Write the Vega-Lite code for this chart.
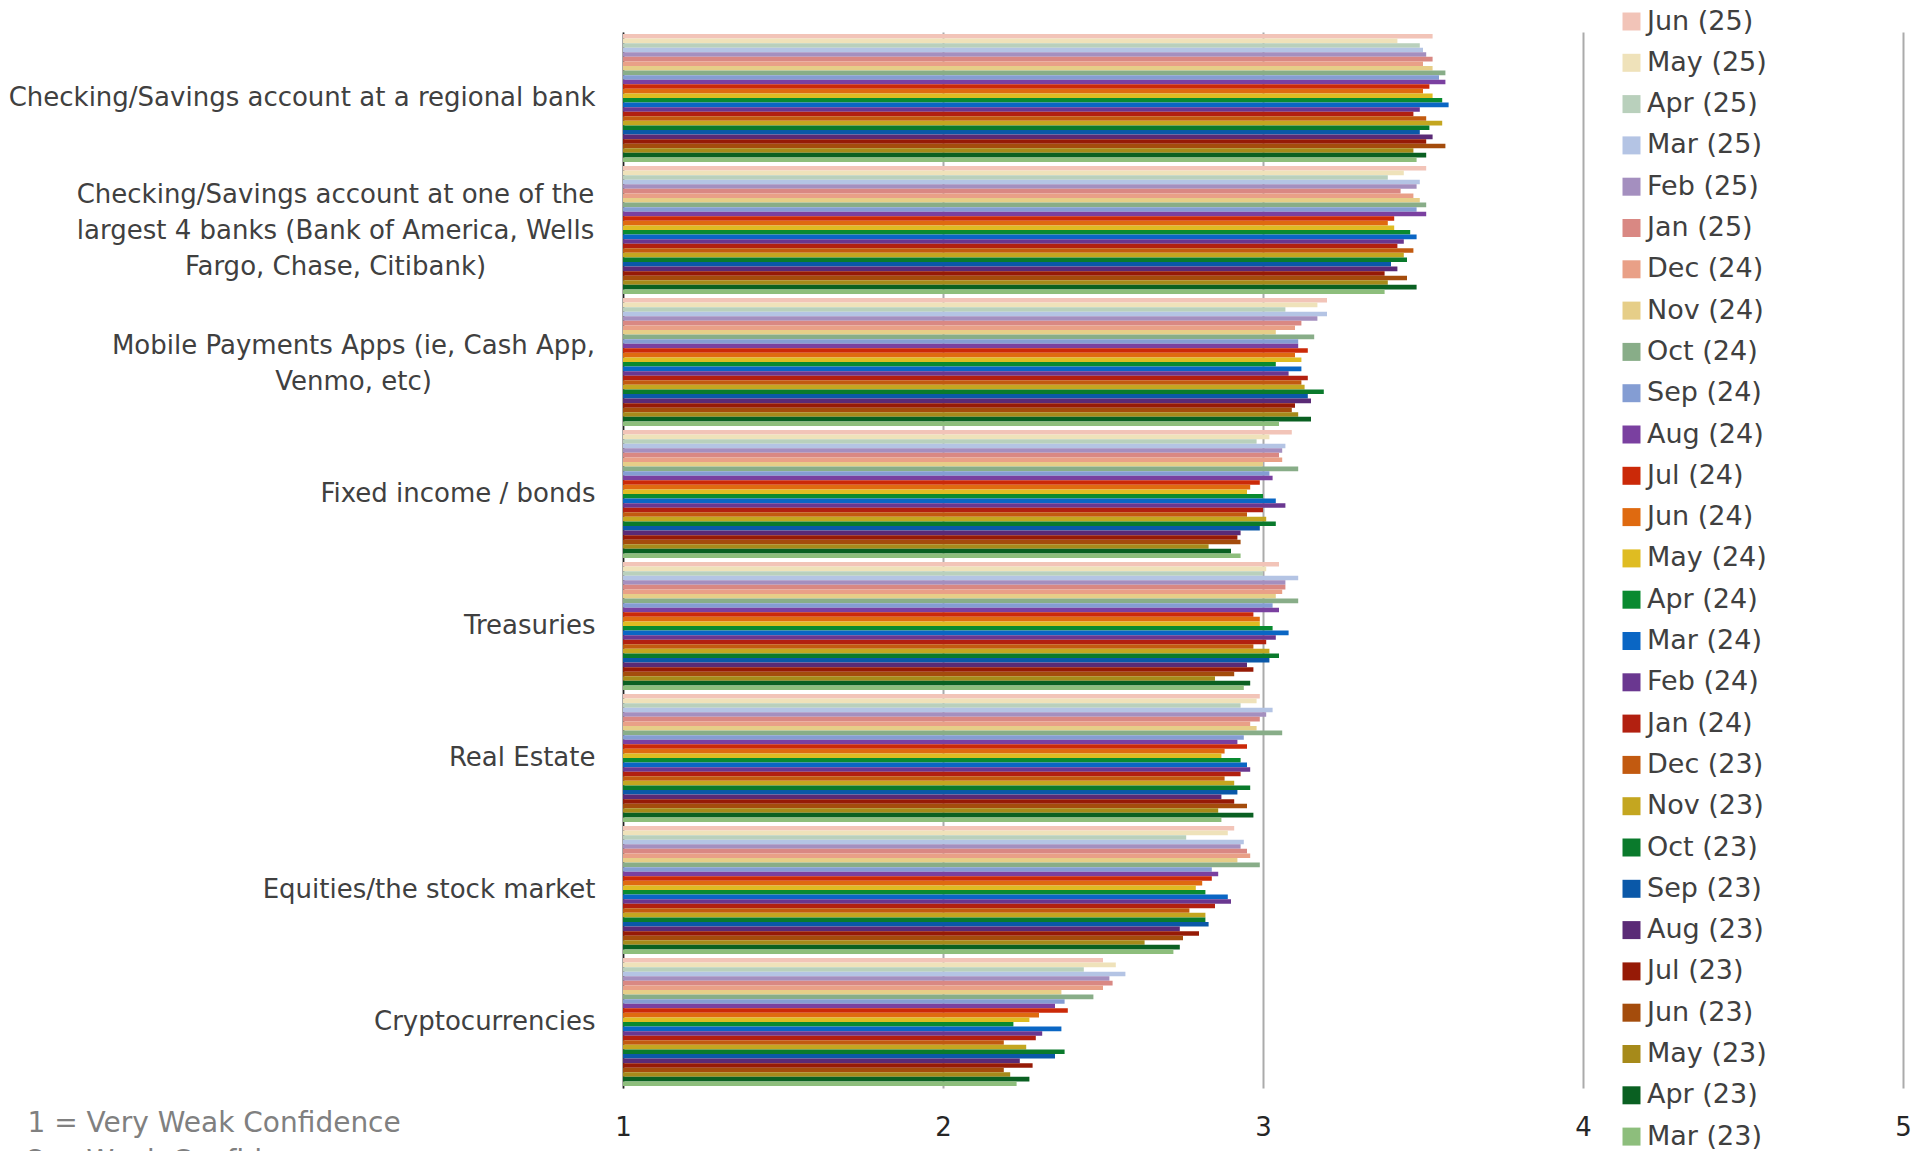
{
  "$schema": "https://vega.github.io/schema/vega-lite/v6.json",
  "width": 1280,
  "height": 1056,
  "autosize": {"type": "none"},
  "padding": {"left": 623, "top": 32, "right": 24, "bottom": 63},
  "background": "white",
  "config": {"font": "DejaVu Sans", "view": {"stroke": null}},
  "data": {"values": [
    {"c":"Checking/Savings account at a regional bank","m":"Jun (25)","v":3.53},
    {"c":"Checking/Savings account at a regional bank","m":"May (25)","v":3.42},
    {"c":"Checking/Savings account at a regional bank","m":"Apr (25)","v":3.49},
    {"c":"Checking/Savings account at a regional bank","m":"Mar (25)","v":3.50},
    {"c":"Checking/Savings account at a regional bank","m":"Feb (25)","v":3.51},
    {"c":"Checking/Savings account at a regional bank","m":"Jan (25)","v":3.53},
    {"c":"Checking/Savings account at a regional bank","m":"Dec (24)","v":3.50},
    {"c":"Checking/Savings account at a regional bank","m":"Nov (24)","v":3.53},
    {"c":"Checking/Savings account at a regional bank","m":"Oct (24)","v":3.57},
    {"c":"Checking/Savings account at a regional bank","m":"Sep (24)","v":3.55},
    {"c":"Checking/Savings account at a regional bank","m":"Aug (24)","v":3.57},
    {"c":"Checking/Savings account at a regional bank","m":"Jul (24)","v":3.52},
    {"c":"Checking/Savings account at a regional bank","m":"Jun (24)","v":3.50},
    {"c":"Checking/Savings account at a regional bank","m":"May (24)","v":3.53},
    {"c":"Checking/Savings account at a regional bank","m":"Apr (24)","v":3.56},
    {"c":"Checking/Savings account at a regional bank","m":"Mar (24)","v":3.58},
    {"c":"Checking/Savings account at a regional bank","m":"Feb (24)","v":3.49},
    {"c":"Checking/Savings account at a regional bank","m":"Jan (24)","v":3.47},
    {"c":"Checking/Savings account at a regional bank","m":"Dec (23)","v":3.51},
    {"c":"Checking/Savings account at a regional bank","m":"Nov (23)","v":3.56},
    {"c":"Checking/Savings account at a regional bank","m":"Oct (23)","v":3.52},
    {"c":"Checking/Savings account at a regional bank","m":"Sep (23)","v":3.49},
    {"c":"Checking/Savings account at a regional bank","m":"Aug (23)","v":3.53},
    {"c":"Checking/Savings account at a regional bank","m":"Jul (23)","v":3.51},
    {"c":"Checking/Savings account at a regional bank","m":"Jun (23)","v":3.57},
    {"c":"Checking/Savings account at a regional bank","m":"May (23)","v":3.47},
    {"c":"Checking/Savings account at a regional bank","m":"Apr (23)","v":3.51},
    {"c":"Checking/Savings account at a regional bank","m":"Mar (23)","v":3.48},
    {"c":"Checking/Savings account at one of the largest 4 banks (Bank of America, Wells Fargo, Chase, Citibank)","m":"Jun (25)","v":3.51},
    {"c":"Checking/Savings account at one of the largest 4 banks (Bank of America, Wells Fargo, Chase, Citibank)","m":"May (25)","v":3.44},
    {"c":"Checking/Savings account at one of the largest 4 banks (Bank of America, Wells Fargo, Chase, Citibank)","m":"Apr (25)","v":3.39},
    {"c":"Checking/Savings account at one of the largest 4 banks (Bank of America, Wells Fargo, Chase, Citibank)","m":"Mar (25)","v":3.49},
    {"c":"Checking/Savings account at one of the largest 4 banks (Bank of America, Wells Fargo, Chase, Citibank)","m":"Feb (25)","v":3.48},
    {"c":"Checking/Savings account at one of the largest 4 banks (Bank of America, Wells Fargo, Chase, Citibank)","m":"Jan (25)","v":3.43},
    {"c":"Checking/Savings account at one of the largest 4 banks (Bank of America, Wells Fargo, Chase, Citibank)","m":"Dec (24)","v":3.47},
    {"c":"Checking/Savings account at one of the largest 4 banks (Bank of America, Wells Fargo, Chase, Citibank)","m":"Nov (24)","v":3.49},
    {"c":"Checking/Savings account at one of the largest 4 banks (Bank of America, Wells Fargo, Chase, Citibank)","m":"Oct (24)","v":3.51},
    {"c":"Checking/Savings account at one of the largest 4 banks (Bank of America, Wells Fargo, Chase, Citibank)","m":"Sep (24)","v":3.48},
    {"c":"Checking/Savings account at one of the largest 4 banks (Bank of America, Wells Fargo, Chase, Citibank)","m":"Aug (24)","v":3.51},
    {"c":"Checking/Savings account at one of the largest 4 banks (Bank of America, Wells Fargo, Chase, Citibank)","m":"Jul (24)","v":3.41},
    {"c":"Checking/Savings account at one of the largest 4 banks (Bank of America, Wells Fargo, Chase, Citibank)","m":"Jun (24)","v":3.39},
    {"c":"Checking/Savings account at one of the largest 4 banks (Bank of America, Wells Fargo, Chase, Citibank)","m":"May (24)","v":3.41},
    {"c":"Checking/Savings account at one of the largest 4 banks (Bank of America, Wells Fargo, Chase, Citibank)","m":"Apr (24)","v":3.46},
    {"c":"Checking/Savings account at one of the largest 4 banks (Bank of America, Wells Fargo, Chase, Citibank)","m":"Mar (24)","v":3.48},
    {"c":"Checking/Savings account at one of the largest 4 banks (Bank of America, Wells Fargo, Chase, Citibank)","m":"Feb (24)","v":3.44},
    {"c":"Checking/Savings account at one of the largest 4 banks (Bank of America, Wells Fargo, Chase, Citibank)","m":"Jan (24)","v":3.42},
    {"c":"Checking/Savings account at one of the largest 4 banks (Bank of America, Wells Fargo, Chase, Citibank)","m":"Dec (23)","v":3.47},
    {"c":"Checking/Savings account at one of the largest 4 banks (Bank of America, Wells Fargo, Chase, Citibank)","m":"Nov (23)","v":3.44},
    {"c":"Checking/Savings account at one of the largest 4 banks (Bank of America, Wells Fargo, Chase, Citibank)","m":"Oct (23)","v":3.45},
    {"c":"Checking/Savings account at one of the largest 4 banks (Bank of America, Wells Fargo, Chase, Citibank)","m":"Sep (23)","v":3.40},
    {"c":"Checking/Savings account at one of the largest 4 banks (Bank of America, Wells Fargo, Chase, Citibank)","m":"Aug (23)","v":3.42},
    {"c":"Checking/Savings account at one of the largest 4 banks (Bank of America, Wells Fargo, Chase, Citibank)","m":"Jul (23)","v":3.38},
    {"c":"Checking/Savings account at one of the largest 4 banks (Bank of America, Wells Fargo, Chase, Citibank)","m":"Jun (23)","v":3.45},
    {"c":"Checking/Savings account at one of the largest 4 banks (Bank of America, Wells Fargo, Chase, Citibank)","m":"May (23)","v":3.39},
    {"c":"Checking/Savings account at one of the largest 4 banks (Bank of America, Wells Fargo, Chase, Citibank)","m":"Apr (23)","v":3.48},
    {"c":"Checking/Savings account at one of the largest 4 banks (Bank of America, Wells Fargo, Chase, Citibank)","m":"Mar (23)","v":3.38},
    {"c":"Mobile Payments Apps (ie, Cash App, Venmo, etc)","m":"Jun (25)","v":3.20},
    {"c":"Mobile Payments Apps (ie, Cash App, Venmo, etc)","m":"May (25)","v":3.17},
    {"c":"Mobile Payments Apps (ie, Cash App, Venmo, etc)","m":"Apr (25)","v":3.07},
    {"c":"Mobile Payments Apps (ie, Cash App, Venmo, etc)","m":"Mar (25)","v":3.20},
    {"c":"Mobile Payments Apps (ie, Cash App, Venmo, etc)","m":"Feb (25)","v":3.17},
    {"c":"Mobile Payments Apps (ie, Cash App, Venmo, etc)","m":"Jan (25)","v":3.12},
    {"c":"Mobile Payments Apps (ie, Cash App, Venmo, etc)","m":"Dec (24)","v":3.10},
    {"c":"Mobile Payments Apps (ie, Cash App, Venmo, etc)","m":"Nov (24)","v":3.04},
    {"c":"Mobile Payments Apps (ie, Cash App, Venmo, etc)","m":"Oct (24)","v":3.16},
    {"c":"Mobile Payments Apps (ie, Cash App, Venmo, etc)","m":"Sep (24)","v":3.11},
    {"c":"Mobile Payments Apps (ie, Cash App, Venmo, etc)","m":"Aug (24)","v":3.11},
    {"c":"Mobile Payments Apps (ie, Cash App, Venmo, etc)","m":"Jul (24)","v":3.14},
    {"c":"Mobile Payments Apps (ie, Cash App, Venmo, etc)","m":"Jun (24)","v":3.10},
    {"c":"Mobile Payments Apps (ie, Cash App, Venmo, etc)","m":"May (24)","v":3.12},
    {"c":"Mobile Payments Apps (ie, Cash App, Venmo, etc)","m":"Apr (24)","v":3.04},
    {"c":"Mobile Payments Apps (ie, Cash App, Venmo, etc)","m":"Mar (24)","v":3.12},
    {"c":"Mobile Payments Apps (ie, Cash App, Venmo, etc)","m":"Feb (24)","v":3.08},
    {"c":"Mobile Payments Apps (ie, Cash App, Venmo, etc)","m":"Jan (24)","v":3.14},
    {"c":"Mobile Payments Apps (ie, Cash App, Venmo, etc)","m":"Dec (23)","v":3.12},
    {"c":"Mobile Payments Apps (ie, Cash App, Venmo, etc)","m":"Nov (23)","v":3.13},
    {"c":"Mobile Payments Apps (ie, Cash App, Venmo, etc)","m":"Oct (23)","v":3.19},
    {"c":"Mobile Payments Apps (ie, Cash App, Venmo, etc)","m":"Sep (23)","v":3.14},
    {"c":"Mobile Payments Apps (ie, Cash App, Venmo, etc)","m":"Aug (23)","v":3.15},
    {"c":"Mobile Payments Apps (ie, Cash App, Venmo, etc)","m":"Jul (23)","v":3.10},
    {"c":"Mobile Payments Apps (ie, Cash App, Venmo, etc)","m":"Jun (23)","v":3.09},
    {"c":"Mobile Payments Apps (ie, Cash App, Venmo, etc)","m":"May (23)","v":3.11},
    {"c":"Mobile Payments Apps (ie, Cash App, Venmo, etc)","m":"Apr (23)","v":3.15},
    {"c":"Mobile Payments Apps (ie, Cash App, Venmo, etc)","m":"Mar (23)","v":3.05},
    {"c":"Fixed income / bonds","m":"Jun (25)","v":3.09},
    {"c":"Fixed income / bonds","m":"May (25)","v":3.02},
    {"c":"Fixed income / bonds","m":"Apr (25)","v":2.98},
    {"c":"Fixed income / bonds","m":"Mar (25)","v":3.07},
    {"c":"Fixed income / bonds","m":"Feb (25)","v":3.06},
    {"c":"Fixed income / bonds","m":"Jan (25)","v":3.05},
    {"c":"Fixed income / bonds","m":"Dec (24)","v":3.06},
    {"c":"Fixed income / bonds","m":"Nov (24)","v":3.00},
    {"c":"Fixed income / bonds","m":"Oct (24)","v":3.11},
    {"c":"Fixed income / bonds","m":"Sep (24)","v":3.02},
    {"c":"Fixed income / bonds","m":"Aug (24)","v":3.03},
    {"c":"Fixed income / bonds","m":"Jul (24)","v":2.99},
    {"c":"Fixed income / bonds","m":"Jun (24)","v":2.96},
    {"c":"Fixed income / bonds","m":"May (24)","v":2.95},
    {"c":"Fixed income / bonds","m":"Apr (24)","v":3.00},
    {"c":"Fixed income / bonds","m":"Mar (24)","v":3.04},
    {"c":"Fixed income / bonds","m":"Feb (24)","v":3.07},
    {"c":"Fixed income / bonds","m":"Jan (24)","v":3.00},
    {"c":"Fixed income / bonds","m":"Dec (23)","v":2.95},
    {"c":"Fixed income / bonds","m":"Nov (23)","v":3.01},
    {"c":"Fixed income / bonds","m":"Oct (23)","v":3.04},
    {"c":"Fixed income / bonds","m":"Sep (23)","v":2.99},
    {"c":"Fixed income / bonds","m":"Aug (23)","v":2.93},
    {"c":"Fixed income / bonds","m":"Jul (23)","v":2.92},
    {"c":"Fixed income / bonds","m":"Jun (23)","v":2.93},
    {"c":"Fixed income / bonds","m":"May (23)","v":2.83},
    {"c":"Fixed income / bonds","m":"Apr (23)","v":2.90},
    {"c":"Fixed income / bonds","m":"Mar (23)","v":2.93},
    {"c":"Treasuries","m":"Jun (25)","v":3.05},
    {"c":"Treasuries","m":"May (25)","v":3.01},
    {"c":"Treasuries","m":"Apr (25)","v":3.00},
    {"c":"Treasuries","m":"Mar (25)","v":3.11},
    {"c":"Treasuries","m":"Feb (25)","v":3.07},
    {"c":"Treasuries","m":"Jan (25)","v":3.07},
    {"c":"Treasuries","m":"Dec (24)","v":3.06},
    {"c":"Treasuries","m":"Nov (24)","v":3.04},
    {"c":"Treasuries","m":"Oct (24)","v":3.11},
    {"c":"Treasuries","m":"Sep (24)","v":3.03},
    {"c":"Treasuries","m":"Aug (24)","v":3.05},
    {"c":"Treasuries","m":"Jul (24)","v":2.97},
    {"c":"Treasuries","m":"Jun (24)","v":2.99},
    {"c":"Treasuries","m":"May (24)","v":2.99},
    {"c":"Treasuries","m":"Apr (24)","v":3.03},
    {"c":"Treasuries","m":"Mar (24)","v":3.08},
    {"c":"Treasuries","m":"Feb (24)","v":3.04},
    {"c":"Treasuries","m":"Jan (24)","v":3.01},
    {"c":"Treasuries","m":"Dec (23)","v":2.97},
    {"c":"Treasuries","m":"Nov (23)","v":3.02},
    {"c":"Treasuries","m":"Oct (23)","v":3.05},
    {"c":"Treasuries","m":"Sep (23)","v":3.02},
    {"c":"Treasuries","m":"Aug (23)","v":2.95},
    {"c":"Treasuries","m":"Jul (23)","v":2.97},
    {"c":"Treasuries","m":"Jun (23)","v":2.91},
    {"c":"Treasuries","m":"May (23)","v":2.85},
    {"c":"Treasuries","m":"Apr (23)","v":2.96},
    {"c":"Treasuries","m":"Mar (23)","v":2.94},
    {"c":"Real Estate","m":"Jun (25)","v":2.99},
    {"c":"Real Estate","m":"May (25)","v":2.98},
    {"c":"Real Estate","m":"Apr (25)","v":2.93},
    {"c":"Real Estate","m":"Mar (25)","v":3.03},
    {"c":"Real Estate","m":"Feb (25)","v":3.01},
    {"c":"Real Estate","m":"Jan (25)","v":2.99},
    {"c":"Real Estate","m":"Dec (24)","v":2.96},
    {"c":"Real Estate","m":"Nov (24)","v":2.98},
    {"c":"Real Estate","m":"Oct (24)","v":3.06},
    {"c":"Real Estate","m":"Sep (24)","v":2.94},
    {"c":"Real Estate","m":"Aug (24)","v":2.92},
    {"c":"Real Estate","m":"Jul (24)","v":2.95},
    {"c":"Real Estate","m":"Jun (24)","v":2.88},
    {"c":"Real Estate","m":"May (24)","v":2.87},
    {"c":"Real Estate","m":"Apr (24)","v":2.93},
    {"c":"Real Estate","m":"Mar (24)","v":2.95},
    {"c":"Real Estate","m":"Feb (24)","v":2.96},
    {"c":"Real Estate","m":"Jan (24)","v":2.93},
    {"c":"Real Estate","m":"Dec (23)","v":2.88},
    {"c":"Real Estate","m":"Nov (23)","v":2.91},
    {"c":"Real Estate","m":"Oct (23)","v":2.96},
    {"c":"Real Estate","m":"Sep (23)","v":2.92},
    {"c":"Real Estate","m":"Aug (23)","v":2.87},
    {"c":"Real Estate","m":"Jul (23)","v":2.91},
    {"c":"Real Estate","m":"Jun (23)","v":2.95},
    {"c":"Real Estate","m":"May (23)","v":2.86},
    {"c":"Real Estate","m":"Apr (23)","v":2.97},
    {"c":"Real Estate","m":"Mar (23)","v":2.87},
    {"c":"Equities/the stock market","m":"Jun (25)","v":2.91},
    {"c":"Equities/the stock market","m":"May (25)","v":2.89},
    {"c":"Equities/the stock market","m":"Apr (25)","v":2.76},
    {"c":"Equities/the stock market","m":"Mar (25)","v":2.94},
    {"c":"Equities/the stock market","m":"Feb (25)","v":2.93},
    {"c":"Equities/the stock market","m":"Jan (25)","v":2.95},
    {"c":"Equities/the stock market","m":"Dec (24)","v":2.96},
    {"c":"Equities/the stock market","m":"Nov (24)","v":2.92},
    {"c":"Equities/the stock market","m":"Oct (24)","v":2.99},
    {"c":"Equities/the stock market","m":"Sep (24)","v":2.84},
    {"c":"Equities/the stock market","m":"Aug (24)","v":2.86},
    {"c":"Equities/the stock market","m":"Jul (24)","v":2.84},
    {"c":"Equities/the stock market","m":"Jun (24)","v":2.81},
    {"c":"Equities/the stock market","m":"May (24)","v":2.79},
    {"c":"Equities/the stock market","m":"Apr (24)","v":2.82},
    {"c":"Equities/the stock market","m":"Mar (24)","v":2.89},
    {"c":"Equities/the stock market","m":"Feb (24)","v":2.90},
    {"c":"Equities/the stock market","m":"Jan (24)","v":2.85},
    {"c":"Equities/the stock market","m":"Dec (23)","v":2.77},
    {"c":"Equities/the stock market","m":"Nov (23)","v":2.82},
    {"c":"Equities/the stock market","m":"Oct (23)","v":2.82},
    {"c":"Equities/the stock market","m":"Sep (23)","v":2.83},
    {"c":"Equities/the stock market","m":"Aug (23)","v":2.74},
    {"c":"Equities/the stock market","m":"Jul (23)","v":2.80},
    {"c":"Equities/the stock market","m":"Jun (23)","v":2.75},
    {"c":"Equities/the stock market","m":"May (23)","v":2.63},
    {"c":"Equities/the stock market","m":"Apr (23)","v":2.74},
    {"c":"Equities/the stock market","m":"Mar (23)","v":2.72},
    {"c":"Cryptocurrencies","m":"Jun (25)","v":2.50},
    {"c":"Cryptocurrencies","m":"May (25)","v":2.54},
    {"c":"Cryptocurrencies","m":"Apr (25)","v":2.44},
    {"c":"Cryptocurrencies","m":"Mar (25)","v":2.57},
    {"c":"Cryptocurrencies","m":"Feb (25)","v":2.52},
    {"c":"Cryptocurrencies","m":"Jan (25)","v":2.53},
    {"c":"Cryptocurrencies","m":"Dec (24)","v":2.50},
    {"c":"Cryptocurrencies","m":"Nov (24)","v":2.37},
    {"c":"Cryptocurrencies","m":"Oct (24)","v":2.47},
    {"c":"Cryptocurrencies","m":"Sep (24)","v":2.38},
    {"c":"Cryptocurrencies","m":"Aug (24)","v":2.35},
    {"c":"Cryptocurrencies","m":"Jul (24)","v":2.39},
    {"c":"Cryptocurrencies","m":"Jun (24)","v":2.30},
    {"c":"Cryptocurrencies","m":"May (24)","v":2.27},
    {"c":"Cryptocurrencies","m":"Apr (24)","v":2.22},
    {"c":"Cryptocurrencies","m":"Mar (24)","v":2.37},
    {"c":"Cryptocurrencies","m":"Feb (24)","v":2.31},
    {"c":"Cryptocurrencies","m":"Jan (24)","v":2.29},
    {"c":"Cryptocurrencies","m":"Dec (23)","v":2.19},
    {"c":"Cryptocurrencies","m":"Nov (23)","v":2.26},
    {"c":"Cryptocurrencies","m":"Oct (23)","v":2.38},
    {"c":"Cryptocurrencies","m":"Sep (23)","v":2.35},
    {"c":"Cryptocurrencies","m":"Aug (23)","v":2.24},
    {"c":"Cryptocurrencies","m":"Jul (23)","v":2.28},
    {"c":"Cryptocurrencies","m":"Jun (23)","v":2.19},
    {"c":"Cryptocurrencies","m":"May (23)","v":2.21},
    {"c":"Cryptocurrencies","m":"Apr (23)","v":2.27},
    {"c":"Cryptocurrencies","m":"Mar (23)","v":2.23}
  ]},
  "mark": {"type": "bar"},
  "encoding": {
    "y": {
      "field": "c", "type": "nominal",
      "sort": ["Checking/Savings account at a regional bank","Checking/Savings account at one of the largest 4 banks (Bank of America, Wells Fargo, Chase, Citibank)","Mobile Payments Apps (ie, Cash App, Venmo, etc)","Fixed income / bonds","Treasuries","Real Estate","Equities/the stock market","Cryptocurrencies"],
      "scale": {"paddingInner": 0.03, "paddingOuter": 0.015},
      "axis": {
        "title": null,
        "ticks": false,
        "domainColor": "#262626",
        "domainWidth": 1.5,
        "labelFontSize": 26,
        "labelColor": "#404040",
        "labelLimit": 700,
        "labelLineHeight": 36,
        "labelBaseline": "middle",
        "labelExpr": "indexof(datum.value, 'largest') >= 0 ? ['Checking/Savings account at one of the', 'largest 4 banks (Bank of America, Wells', 'Fargo, Chase, Citibank)'] : indexof(datum.value, 'Mobile') >= 0 ? ['Mobile Payments Apps (ie, Cash App,', 'Venmo, etc)'] : datum.value",
        "labelAlign": {"condition": {"test": "indexof(datum.value, 'largest') >= 0 || indexof(datum.value, 'Mobile') >= 0", "value": "center"}, "value": "right"},
        "labelPadding": {"condition": [{"test": "indexof(datum.value, 'largest') >= 0", "value": 288}, {"test": "indexof(datum.value, 'Mobile') >= 0", "value": 270}], "value": 28},
        "labelOffset": {"condition": [{"test": "indexof(datum.value, 'largest') >= 0", "value": -35}, {"test": "indexof(datum.value, 'Mobile') >= 0", "value": -16}], "value": 0}
      }
    },
    "yOffset": {
      "field": "m", "type": "nominal",
      "scale": {"domain": ["Jun (25)","May (25)","Apr (25)","Mar (25)","Feb (25)","Jan (25)","Dec (24)","Nov (24)","Oct (24)","Sep (24)","Aug (24)","Jul (24)","Jun (24)","May (24)","Apr (24)","Mar (24)","Feb (24)","Jan (24)","Dec (23)","Nov (23)","Oct (23)","Sep (23)","Aug (23)","Jul (23)","Jun (23)","May (23)","Apr (23)","Mar (23)"], "paddingInner": 0, "paddingOuter": 0}
    },
    "x": {
      "field": "v", "type": "quantitative",
      "scale": {"domain": [1, 5], "nice": false, "zero": false},
      "axis": {
        "values": [1, 2, 3, 4, 5],
        "grid": true,
        "gridColor": "#ABABAB",
        "gridWidth": 2,
        "domain": false,
        "ticks": false,
        "labelFontSize": 26,
        "labelColor": "#262626",
        "labelPadding": 26,
        "labelFlush": false,
        "title": ["1 = Very Weak Confidence", "2 = Weak Confidence"],
        "titleX": -596,
        "titleY": 21,
        "titleAlign": "left",
        "titleBaseline": "top",
        "titleFontSize": 28,
        "titleFontWeight": "normal",
        "titleColor": "#808080",
        "titleLineHeight": 38
      }
    },
    "x2": {"datum": 1},
    "color": {
      "field": "m", "type": "nominal",
      "scale": {
        "domain": ["Jun (25)","May (25)","Apr (25)","Mar (25)","Feb (25)","Jan (25)","Dec (24)","Nov (24)","Oct (24)","Sep (24)","Aug (24)","Jul (24)","Jun (24)","May (24)","Apr (24)","Mar (24)","Feb (24)","Jan (24)","Dec (23)","Nov (23)","Oct (23)","Sep (23)","Aug (23)","Jul (23)","Jun (23)","May (23)","Apr (23)","Mar (23)"],
        "range": ["#F2C4B8","#EFE2BA","#B9D0BC","#B4C4E4","#A48FBF","#D98883","#E9A087","#E6CE88","#88AD88","#849DD3","#7A40A0","#CB2908","#DF6A10","#DFBC22","#098A30","#0A66C4","#6A3790","#B22010","#C25A10","#C4A620","#0A7A2C","#0A58A8","#5A2A76","#961A06","#A44C0C","#A68A1A","#0A6022","#8DBE7C"]
      },
      "legend": {
        "title": null,
        "orient": "none",
        "legendX": 995,
        "legendY": -24,
        "direction": "vertical",
        "symbolType": "square",
        "symbolSize": 324,
        "symbolStrokeWidth": 0,
        "labelFontSize": 27,
        "labelColor": "#404040",
        "labelOffset": 2,
        "labelLimit": 300,
        "rowPadding": 13.3,
        "padding": 0
      }
    }
  }
}
